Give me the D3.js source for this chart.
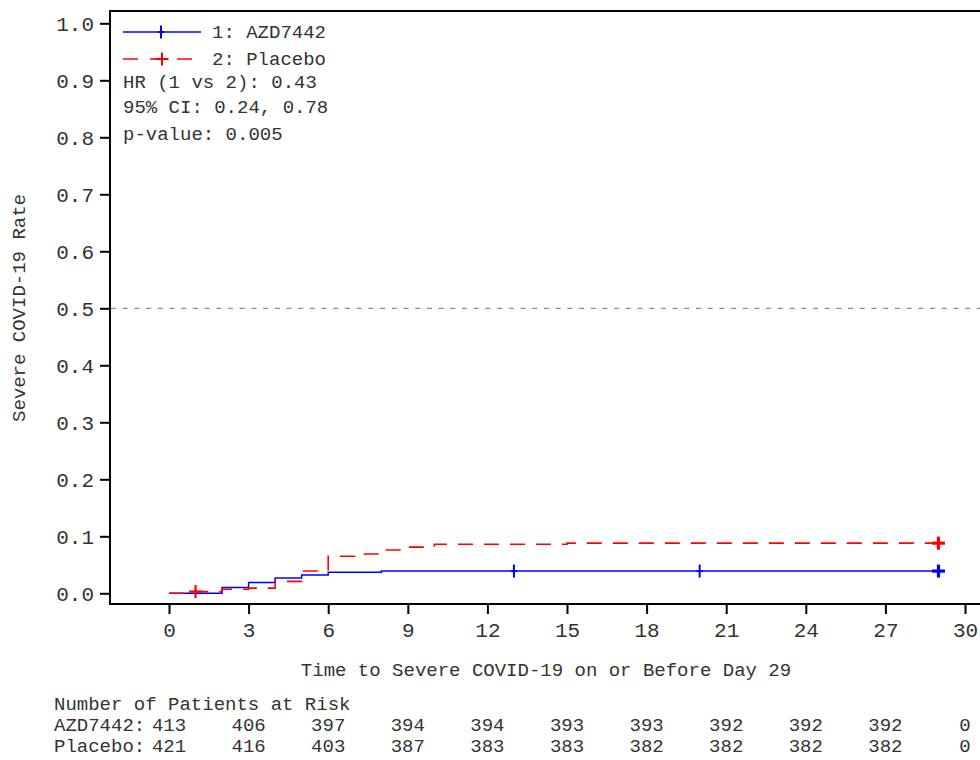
<!DOCTYPE html>
<html>
<head>
<meta charset="utf-8">
<script src="https://cdn.jsdelivr.net/npm/d3@7"></script>
<style>
body { margin: 0; background: #fff; }
svg text { font-family: "Liberation Mono", "DejaVu Sans Mono", monospace; fill: #333; }
</style>
</head>
<body>
<div id="km-graph"></div>
<script>
// time points and cumulative rates (step after)
var azdTimes = [0, 2, 3, 4, 5, 6, 8, 29];
var azdRates = [0, 0.010, 0.019, 0.027, 0.032, 0.037, 0.039, 0.039];
var pboTimes = [0, 1, 2, 3, 4, 5, 6, 7, 8, 9, 10, 15, 29];
var pboRates = [0, 0.003, 0.007, 0.009, 0.021, 0.039, 0.065, 0.069, 0.076, 0.081, 0.086, 0.088, 0.088];

// censoring marks
var azdCensor = [13, 20];
var pboCensor = [1];
var lastCensor = 29;

var xTicks = [0, 3, 6, 9, 12, 15, 18, 21, 24, 27, 30];
var yTicks = [0, 0.1, 0.2, 0.3, 0.4, 0.5, 0.6, 0.7, 0.8, 0.9, 1.0];

var riskGroups = ["AZD7442:", "Placebo:"];
var azdAtRisk = [413, 406, 397, 394, 394, 393, 393, 392, 392, 392, 0];
var pboAtRisk = [421, 416, 403, 387, 383, 383, 382, 382, 382, 382, 0];

var legendLabels = ["1: AZD7442", "2: Placebo"];
var statLines = ["HR (1 vs 2): 0.43", "95% CI: 0.24, 0.78", "p-value: 0.005"];

const BLUE = "#0000ff";
const RED = "#ff0000";
const CROSS = 6.5;

var W = 980, H = 760;
var svg = d3.select("#km-graph")
	.append("svg")
	.attr("width", W)
	.attr("height", H);

var x = d3.scaleLinear()
	.domain([0, 30])
	.range([169, 965]);

var y = d3.scaleLinear()
	.domain([0, 1])
	.range([593.3, 23.3]);

// frame of plot area
var frameLeft = 110, frameTop = 11, frameBottom = 604;
svg.append("path")
	.attr("d", "M" + (W + 10) + "," + frameTop + "H" + frameLeft + "V" + frameBottom + "H" + (W + 10))
	.attr("fill", "none")
	.attr("stroke", "#000")
	.attr("stroke-width", 2);

// reference line at 0.5
svg.append("line")
	.attr("x1", frameLeft + 1)
	.attr("x2", W)
	.attr("y1", y(0.5))
	.attr("y2", y(0.5))
	.attr("stroke", "#8c8c8c")
	.attr("stroke-width", 1.2)
	.attr("stroke-dasharray", "5,6.7");

// y axis
var yAxis = svg.append("g")
	.attr("transform", "translate(" + frameLeft + ",0)")
	.call(d3.axisLeft(y)
		.tickValues(yTicks)
		.tickFormat(d3.format(".1f"))
		.tickSize(10)
		.tickPadding(6));
yAxis.select(".domain").remove();
yAxis.selectAll("line").attr("stroke", "#000").attr("stroke-width", 2);
yAxis.selectAll("text")
	.attr("font-family", null)
	.style("font-size", "21px")
	.attr("fill", "#333")
	.attr("dy", "0.35em");

// x axis
var xAxis = svg.append("g")
	.attr("transform", "translate(0," + frameBottom + ")")
	.call(d3.axisBottom(x)
		.tickValues(xTicks)
		.tickFormat(d3.format("d"))
		.tickSize(10)
		.tickPadding(8));
xAxis.select(".domain").remove();
xAxis.selectAll("line").attr("stroke", "#000").attr("stroke-width", 2);
xAxis.selectAll("text")
	.attr("font-family", null)
	.style("font-size", "21px")
	.attr("fill", "#333");

// axis titles
svg.append("text")
	.attr("x", 546)
	.attr("y", 676)
	.attr("text-anchor", "middle")
	.style("font-size", "19px")
	.text("Time to Severe COVID-19 on or Before Day 29");

svg.append("text")
	.attr("transform", "translate(25,308)rotate(-90)")
	.attr("text-anchor", "middle")
	.style("font-size", "19px")
	.text("Severe COVID-19 Rate");

// curves
var line = d3.line()
	.x(d => x(d[0]))
	.y(d => y(d[1]))
	.curve(d3.curveStepAfter);

var azdData = d3.zip(azdTimes, azdRates);
var pboData = d3.zip(pboTimes, pboRates);

svg.append("path")
	.datum(azdData)
	.attr("d", line)
	.attr("fill", "none")
	.attr("stroke", BLUE)
	.attr("stroke-width", 1.5);

svg.append("path")
	.datum(pboData)
	.attr("d", line)
	.attr("fill", "none")
	.attr("stroke", RED)
	.attr("stroke-width", 1.6)
	.attr("stroke-dasharray", "15,11");

// step value lookup
function rateAt(times, rates, t) {
	var i = d3.bisectRight(times, t) - 1;
	return rates[Math.max(0, i)];
}

function drawCross(g, cx, cy, color, w, hw) {
	g.append("line")
		.attr("x1", cx).attr("x2", cx)
		.attr("y1", cy - CROSS).attr("y2", cy + CROSS)
		.attr("stroke", color).attr("stroke-width", w);
	g.append("line")
		.attr("x1", cx - hw).attr("x2", cx + hw)
		.attr("y1", cy).attr("y2", cy)
		.attr("stroke", color).attr("stroke-width", w);
}

var marks = svg.append("g");
azdCensor.forEach(t => drawCross(marks, x(t), y(rateAt(azdTimes, azdRates, t)), BLUE, 2, 3));
pboCensor.forEach(t => drawCross(marks, x(t), y(rateAt(pboTimes, pboRates, t)), RED, 2.2, CROSS));
drawCross(marks, x(lastCensor), y(rateAt(azdTimes, azdRates, lastCensor)), BLUE, 3.2, CROSS);
drawCross(marks, x(lastCensor), y(rateAt(pboTimes, pboRates, lastCensor)), RED, 3.2, CROSS);

// legend
var legend = svg.append("g");
legend.append("line")
	.attr("x1", 123).attr("x2", 201)
	.attr("y1", 32).attr("y2", 32)
	.attr("stroke", BLUE).attr("stroke-width", 1.5);
drawCross(legend, 161, 32, BLUE, 2, 3);
legend.append("line")
	.attr("x1", 123).attr("x2", 201)
	.attr("y1", 59).attr("y2", 59)
	.attr("stroke", RED).attr("stroke-width", 1.6)
	.attr("stroke-dasharray", "15,12");
drawCross(legend, 162, 59, RED, 2, CROSS);

legend.selectAll(".lg")
	.data(legendLabels)
	.enter()
	.append("text")
	.attr("x", 212)
	.attr("y", (d, i) => [38, 65][i])
	.style("font-size", "19px")
	.text(d => d);

legend.selectAll(".st")
	.data(statLines)
	.enter()
	.append("text")
	.attr("x", 123)
	.attr("y", (d, i) => [88, 113, 140][i])
	.style("font-size", "19px")
	.text(d => d);

// number at risk table
svg.append("text")
	.attr("x", 54)
	.attr("y", 710)
	.style("font-size", "19px")
	.text("Number of Patients at Risk");

var riskRows = [azdAtRisk, pboAtRisk];
riskRows.forEach(function(row, r) {
	var ry = 731 + r * 21;
	svg.append("text")
		.attr("x", 54)
		.attr("y", ry)
		.style("font-size", "19px")
		.text(riskGroups[r]);
	svg.append("g")
		.selectAll("text")
		.data(row)
		.enter()
		.append("text")
		.attr("x", (d, i) => x(xTicks[i]))
		.attr("y", ry)
		.attr("text-anchor", "middle")
		.style("font-size", "19px")
		.text(d => d);
});
</script>
</body>
</html>
